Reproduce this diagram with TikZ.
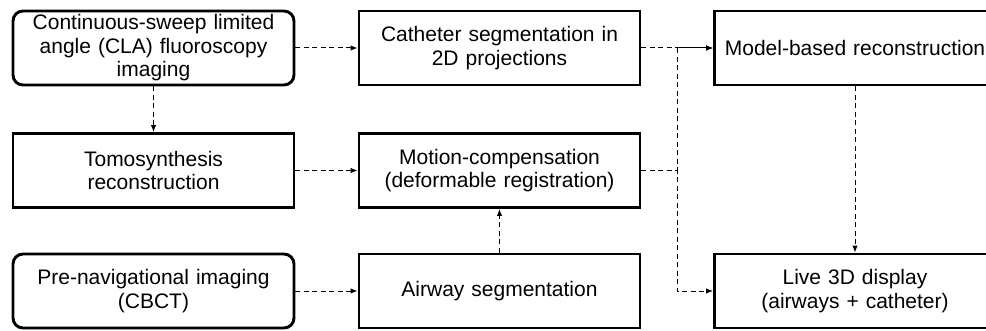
\documentclass[tikz,border=0pt]{standalone}
\usepackage{fontspec}
\setmainfont{Liberation Sans}
\usetikzlibrary{arrows.meta,positioning,calc}

\begin{document}
\begin{tikzpicture}[
   x=1pt,y=1pt,
   every node/.style={font=\fontsize{21}{23.5}\selectfont},
   box/.style={draw,rectangle,line width=2.9pt,minimum width=281pt,
               minimum height=74pt,inner sep=0pt,text width=275pt,align=center},
   rbox/.style={box,rounded corners=10pt},
   ln/.style={line width=1pt,dash pattern=on 5pt off 3.5pt,
              -{Latex[length=7pt,width=5.5pt]}}
]
\useasboundingbox (0,0) rectangle (986,330);
\clip (0,0) rectangle (986,330);

% left column
\node[rbox] (CLA) at (153.5,282) {Continuous-sweep limited\\angle (CLA) fluoroscopy\\imaging};
\node[box]  (TS)  at (153.5,159.5) {Tomosynthesis\\reconstruction};
\node[rbox] (PN)  at (153.5,39) {Pre-navigational imaging\\(CBCT)};

% middle column
\node[box] (CS) at (499.5,282) {Catheter segmentation in\\2D projections};
\node[box] (MC) at (499.5,159.5) {Motion-compensation\\(deformable registration)};
\node[box] (AS) at (499.5,39) {Airway segmentation};

% right column
\node[box] (MB) at (855,282) {Model-based reconstruction};
\node[box] (LD) at (855,39) {Live 3D display\\(airways + catheter)};

\draw[ln] (CLA) -- (CS);
\draw[ln] (CLA) -- (TS);
\draw[ln] (TS) -- (MC);
\draw[ln] (PN) -- (AS);
\draw[ln] (AS) -- (MC);
\draw[ln] (CS) -- (MB);
\draw[ln] (MB) -- (LD);

% motion-compensation feeds both outputs
\coordinate (jn) at (677,159.5);
\draw[ln] (MC.east) -- (jn) |- (MB.west);
\draw[ln] (MC.east) -- (jn) |- (LD.west);

\end{tikzpicture}
\end{document}
